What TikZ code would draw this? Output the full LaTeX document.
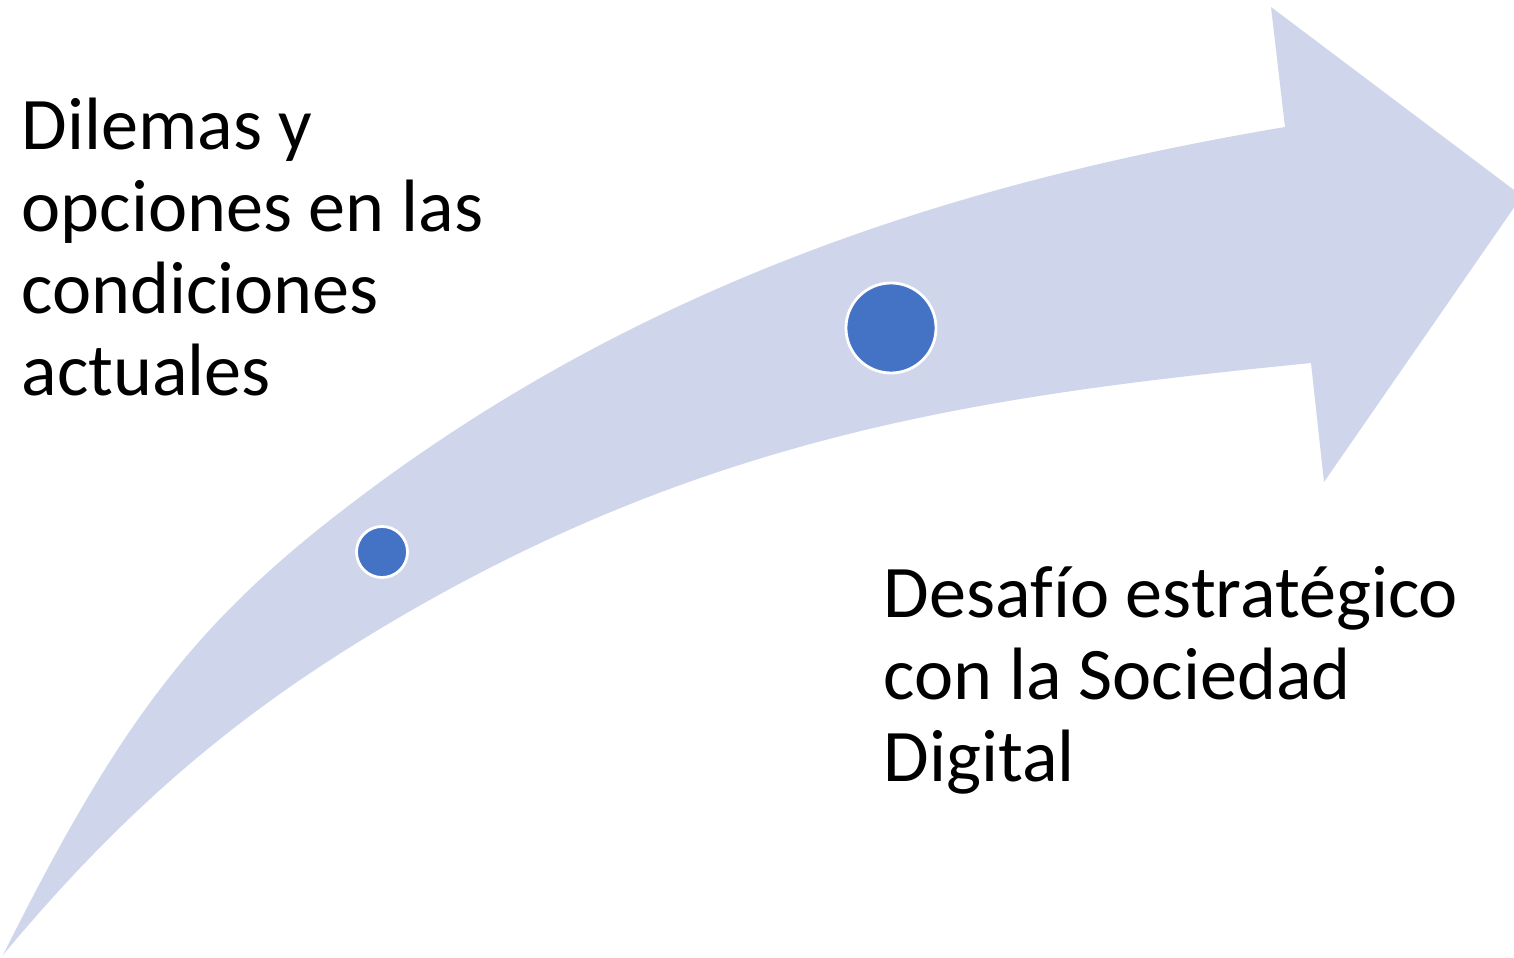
\documentclass[tikz,border=0pt]{standalone}
\usepackage{fontspec}
\setmainfont{Carlito}[Ligatures=CommonOff]
\definecolor{bandfill}{RGB}{207,213,234}
\definecolor{dotfill}{RGB}{68,114,196}
\begin{document}
\begin{tikzpicture}[x=0.01cm,y=-0.01cm,
  dot/.style={circle,fill=dotfill,draw=white,line width=0.8pt,inner sep=0pt},
  label/.style={anchor=base west,inner sep=0pt,font=\fontsize{21.1}{23.5}\selectfont}]
\useasboundingbox (0,0) rectangle (1514,958);
\clip (0,0) rectangle (1514,958);
% curved arrow band
\coordinate (tail) at (3,955);
\coordinate (um) at (383,480);
\coordinate (us) at (1285,127);
\coordinate (ht) at (1271,7);
\coordinate (tip) at (1522,196);
\coordinate (hb) at (1324,482);
\coordinate (ls) at (1311,363);
\coordinate (lm) at (383,627);
\fill[bandfill] (tail)
  .. controls (128,705) and (205,610) .. (um)
  .. controls (674,268) and (989,177) .. (us)
  -- (ht) -- (tip) -- (hb) -- (ls)
  .. controls (991,395) and (709,432) .. (lm)
  .. controls (246,709) and (131,801) .. (tail)
  -- cycle;
% dots
\node[dot,minimum size=0.51cm] (d1) at (382,552) {};
\node[dot,minimum size=0.90cm] (d2) at (891,328) {};
% left text
\node[label] (l1) at (21,150) {Dilemas y};
\node[label] (l2) at (21,232) {opciones en las};
\node[label] (l3) at (21,314) {condiciones};
\node[label] (l4) at (21,396) {actuales};
% right text
\node[label] (r1) at (883,618) {Desafío estratégico};
\node[label] (r2) at (883,700) {con la Sociedad};
\node[label] (r3) at (883,782) {Digital};
\end{tikzpicture}
\end{document}
